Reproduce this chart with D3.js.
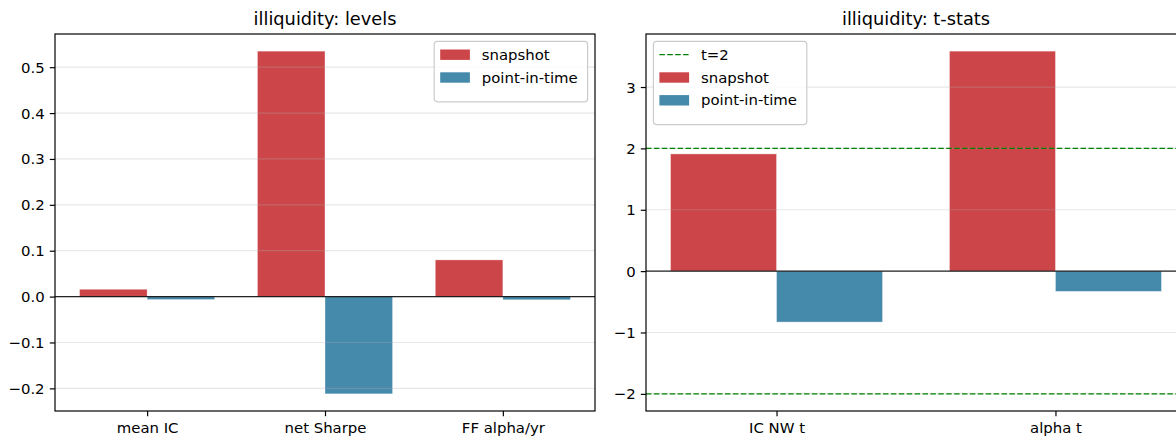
<!DOCTYPE html>
<html>
<head>
<meta charset="utf-8">
<script src="https://cdn.jsdelivr.net/npm/d3@7"></script>
<style>
  html, body { margin: 0; padding: 0; background: #fff; }
  svg { display: block; font-family: "DejaVu Sans", sans-serif; }
</style>
</head>
<body>
<svg id="chart" width="1176" height="441"></svg>
<script>
// ---- data ----
const seriesNames = ["snapshot", "point-in-time"];
const seriesColors = ["#cc4548", "#4589ab"];

const levelCats = ["mean IC", "net Sharpe", "FF alpha/yr"];
const levelSnapshot = [0.016, 0.535, 0.080];
const levelPit = [-0.0065, -0.212, -0.007];
const levelTicks = [-0.2, -0.1, 0.0, 0.1, 0.2, 0.3, 0.4, 0.5];

const tCats = ["IC NW t", "alpha t"];
const tSnapshot = [1.91, 3.585];
const tPit = [-0.83, -0.33];
const tTicks = [-2, -1, 0, 1, 2, 3];
const tThresholds = [2, -2];
const thresholdLabel = "t=2";

const titles = ["illiquidity: levels", "illiquidity: t-stats"];

// ---- layout ----
const svg = d3.select("#chart");
const FS = 14.9, TFS = 17.8;
const barW = 0.38;
const tickLen = 5.2, tickPad = 5.2;
const plotTop = 34, plotBottom = 411;

function fmtMinus(s) { return s.replace("-", "\u2212"); }

function panel(opts) {
  const { x0, x1, cats, snap, pit, ticks, fmt, title, legendPos, thresholds } = opts;
  const g = svg.append("g");
  const n = cats.length;
  const xMin = -barW, xMax = (n - 1) + barW;
  const xm = (xMax - xMin) * 0.05;
  const x = d3.scaleLinear().domain([xMin - xm, xMax + xm]).range([x0, x1]);

  let vals = snap.concat(pit);
  if (thresholds) vals = vals.concat(thresholds);
  let lo = d3.min(vals), hi = d3.max(vals);
  const ym = (hi - lo) * 0.05;
  const y = d3.scaleLinear().domain([lo - ym, hi + ym]).range([plotBottom, plotTop]);

  // bars
  const data = [];
  cats.forEach((c, i) => {
    data.push({ i, v: snap[i], s: 0 });
    data.push({ i, v: pit[i], s: 1 });
  });
  g.selectAll("rect.bar").data(data).enter().append("rect")
    .attr("class", "bar")
    .attr("x", d => x(d.s === 0 ? d.i - barW : d.i))
    .attr("width", d => x(barW) - x(0))
    .attr("y", d => y(Math.max(0, d.v)))
    .attr("height", d => Math.abs(y(d.v) - y(0)))
    .attr("fill", d => seriesColors[d.s])
    .attr("stroke", "#ffffff")
    .attr("stroke-opacity", 0.5)
    .attr("stroke-width", 0.7);

  // grid (above bars, like matplotlib default)
  g.selectAll("line.grid").data(ticks).enter().append("line")
    .attr("class", "grid")
    .attr("x1", x0).attr("x2", x1)
    .attr("y1", d => y(d)).attr("y2", d => y(d))
    .attr("stroke", "#b0b0b0").attr("stroke-opacity", 0.3)
    .attr("stroke-width", 1.19);

  // zero line
  g.append("line")
    .attr("x1", x0).attr("x2", x1)
    .attr("y1", y(0)).attr("y2", y(0))
    .attr("stroke", "#000").attr("stroke-opacity", 0.85).attr("stroke-width", 1.19);

  // thresholds
  if (thresholds) {
    g.selectAll("line.thr").data(thresholds).enter().append("line")
      .attr("class", "thr")
      .attr("x1", x0).attr("x2", x1)
      .attr("y1", d => y(d)).attr("y2", d => y(d))
      .attr("stroke", "#008000").attr("stroke-width", 1.3)
      .attr("stroke-dasharray", "5.5,2.4");
  }

  // axes
  const yAxis = d3.axisLeft(y).tickValues(ticks).tickFormat(d => fmtMinus(fmt(d)))
    .tickSize(tickLen).tickPadding(tickPad);
  const ya = g.append("g").attr("transform", `translate(${x0},0)`).call(yAxis);
  const xAxis = d3.axisBottom(x).tickValues(d3.range(n)).tickFormat(i => cats[i])
    .tickSize(tickLen).tickPadding(tickPad);
  const xa = g.append("g").attr("transform", `translate(0,${plotBottom})`).call(xAxis);
  [ya, xa].forEach(a => {
    a.select(".domain").remove();
    a.selectAll(".tick line").attr("stroke", "#000").attr("stroke-width", 1.19);
    a.selectAll(".tick text").attr("fill", "#000")
      .style("font-family", "DejaVu Sans").style("font-size", FS + "px");
  });
  ya.selectAll(".tick text").attr("dy", null).attr("dominant-baseline", "auto")
    .attr("transform", "translate(0,5)");
  xa.selectAll(".tick text").attr("dy", null).attr("y", tickLen + tickPad + 11.3)
    .attr("dominant-baseline", "auto");

  // spines
  g.append("rect")
    .attr("x", x0).attr("y", plotTop).attr("width", x1 - x0).attr("height", plotBottom - plotTop)
    .attr("fill", "none").attr("stroke", "#000").attr("stroke-width", 1.19);

  // title
  g.append("text").attr("x", (x0 + x1) / 2).attr("y", plotTop - 8.9)
    .attr("text-anchor", "middle").style("font-size", TFS + "px").attr("fill", "#000")
    .text(title);

  // legend
  const items = [];
  if (thresholds) items.push({ type: "line", label: thresholdLabel });
  seriesNames.forEach((s, k) => items.push({ type: "patch", label: s, color: seriesColors[k] }));
  const lw = 153.4, rowH = 22.8;
  const lh = 13.3 + (items.length - 1) * rowH + 24.3;
  const lx = legendPos === "right" ? x1 - 7.4 - lw : x0 + 7.4;
  const ly = plotTop + 7.4;
  const lg = g.append("g").attr("transform", `translate(${lx},${ly})`);
  lg.append("rect").attr("width", lw).attr("height", lh).attr("rx", 3).attr("ry", 3)
    .attr("fill", "#fff").attr("fill-opacity", 0.8)
    .attr("stroke", "#cccccc").attr("stroke-width", 1.19);
  items.forEach((it, k) => {
    const cy = 13.3 + k * rowH;
    if (it.type === "line") {
      lg.append("line").attr("x1", 6).attr("x2", 6 + 29.7).attr("y1", cy).attr("y2", cy)
        .attr("stroke", "#008000").attr("stroke-width", 1.3).attr("stroke-dasharray", "5.5,2.4");
    } else {
      lg.append("rect").attr("x", 6).attr("y", cy - 5.2).attr("width", 29.7).attr("height", 10.4)
        .attr("fill", it.color);
    }
    lg.append("text").attr("x", 6 + 29.7 + 11.9).attr("y", cy + 5.2)
      .style("font-size", FS + "px").attr("fill", "#000").text(it.label);
  });
}

panel({ x0: 55, x1: 595, cats: levelCats, snap: levelSnapshot, pit: levelPit,
  ticks: levelTicks, fmt: d3.format(".1f"), title: titles[0], legendPos: "right" });
panel({ x0: 646, x1: 1186, cats: tCats, snap: tSnapshot, pit: tPit,
  ticks: tTicks, fmt: d3.format("d"), title: titles[1], legendPos: "left",
  thresholds: tThresholds });
</script>
</body>
</html>
